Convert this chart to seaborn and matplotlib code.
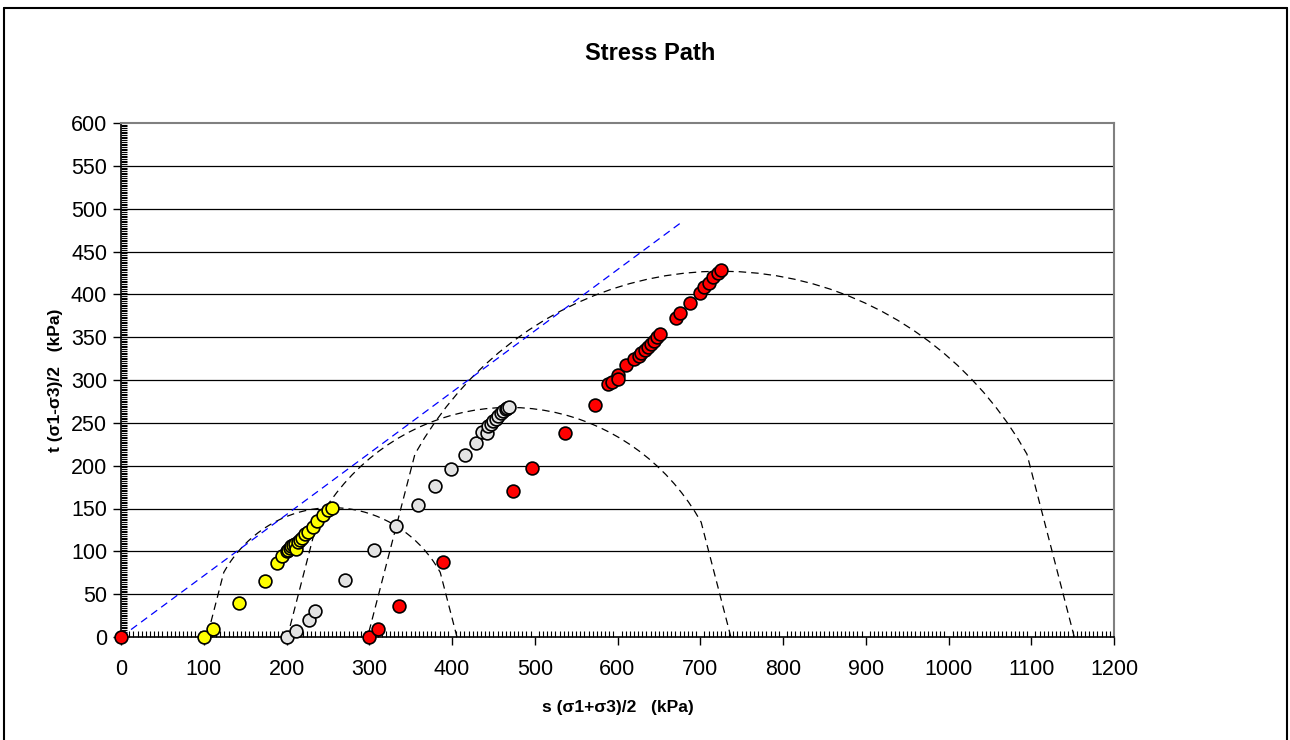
import numpy as np
import pandas as pd
import matplotlib
matplotlib.use("Agg")
import matplotlib.pyplot as plt
from matplotlib.ticker import MultipleLocator
from matplotlib.lines import Line2D
import seaborn as sns

# ---- data ----
yellow_s = [100, 111, 143, 174, 188, 195, 200, 202, 204, 206, 208, 210, 212, 214, 216, 219, 222, 226, 232, 237, 244, 250, 255]
yellow_t = [0, 9, 40, 65, 86, 95, 100, 102, 104, 106, 107, 109, 103, 111, 113, 116, 120, 123, 128, 135, 142, 148, 151]

white_s = [200, 211, 227, 235, 271, 306, 332, 359, 380, 399, 416, 429, 436, 442, 444, 447, 450, 453, 456, 459, 462, 465, 467, 469]
white_t = [0, 7, 20, 30, 66, 101, 129, 154, 176, 196, 212, 227, 239, 238, 246, 249, 252, 255, 258, 261, 264, 266, 267, 268]

red_s = [0, 300, 311, 336, 389, 474, 497, 537, 573, 589, 593, 600, 601, 610, 620, 626, 629, 633, 637, 640, 644, 648, 651, 671, 675, 688, 700, 705, 710, 716, 722, 725]
red_t = [0, 0, 9, 36, 88, 171, 197, 238, 271, 295, 298, 306, 301, 317, 324, 328, 331, 335, 339, 342, 346, 350, 354, 372, 378, 390, 402, 408, 413, 420, 425, 428]

# Mohr circles: centre s and radius t (final points)
circle_centres = [255, 469, 725]
circle_radii = [151, 268, 427]
circle_angles_deg = [0] + list(range(30, 151, 3)) + [180]

# failure envelope
envelope_s = [0, 680]
envelope_t = [0, 486]

x_ticks = list(range(0, 1201, 100))
y_ticks = list(range(0, 601, 50))

# ---- figure ----
sns.set_style("white")
plt.rcParams['font.family'] = ['Liberation Sans', 'DejaVu Sans']
plt.rcParams['text.color'] = 'black'
plt.rcParams['axes.labelcolor'] = 'black'

W, H = 1290, 740
fig = plt.figure(figsize=(W / 100, H / 100), dpi=100)
ax = fig.add_axes([121 / W, 1 - 637 / H, (1114 - 121) / W, (637 - 123) / H])

# gridlines
for yv in y_ticks[1:-1]:
    ax.axhline(yv, color='black', lw=0.9, zorder=0)

# circles
ang = np.deg2rad(circle_angles_deg)
for c, r in zip(circle_centres, circle_radii):
    df = pd.DataFrame({'s': c + r * np.cos(ang), 't': r * np.sin(ang)})
    sns.lineplot(data=df, x='s', y='t', sort=False, estimator=None, ax=ax,
                 color='black', lw=0.9, linestyle=(0, (6, 4)), zorder=2)

# envelope
env = pd.DataFrame({'s': envelope_s, 't': envelope_t})
sns.lineplot(data=env, x='s', y='t', sort=False, estimator=None, ax=ax,
             color='#0000FF', lw=0.9, linestyle=(0, (6, 4)), zorder=2)

# stress paths
for xs, ts, col in [(yellow_s, yellow_t, '#FFFF00'),
                    (white_s, white_t, '#E3E3E3'),
                    (red_s, red_t, '#FF0000')]:
    df = pd.DataFrame({'s': xs, 't': ts})
    sns.scatterplot(data=df, x='s', y='t', ax=ax, color=col, edgecolor='black',
                    linewidth=1.2, s=85, zorder=3, clip_on=False)

ax.set_xlim(0, 1200)
ax.set_ylim(0, 600)
ax.set_xticks(x_ticks)
ax.set_yticks(y_ticks)
ax.set_xticklabels([str(v) for v in x_ticks])
ax.set_yticklabels([str(v) for v in y_ticks])
ax.xaxis.set_minor_locator(MultipleLocator(5))
ax.yaxis.set_minor_locator(MultipleLocator(2))
ax.tick_params(axis='both', which='major', direction='out', length=6, width=1,
               color='black', labelsize=15.5, labelcolor='black')
ax.tick_params(axis='x', which='major', pad=10)
ax.tick_params(axis='y', which='major', pad=4)
ax.tick_params(axis='both', which='minor', direction='in', length=4, width=0.8, color='black')
ax.tick_params(bottom=True, left=True, which='both')

for side in ['left', 'bottom']:
    ax.spines[side].set_color('black')
    ax.spines[side].set_linewidth(1.2)
for side in ['top', 'right']:
    ax.spines[side].set_color('#808080')
    ax.spines[side].set_linewidth(1.5)

ax.set_xlabel('s (σ1+σ3)/2   (kPa)', fontsize=12.5, fontweight='bold', labelpad=14,
              color='black')
ax.set_ylabel('t (σ1-σ3)/2   (kPa)', fontsize=12.5, fontweight='bold', labelpad=6,
              color='black')

fig.text(650 / W, 1 - 53 / H, 'Stress Path', ha='center', va='center',
         fontsize=17, fontweight='bold', color='black')

# outer chart border
for (x0, y0, x1, y1) in [(4, 8, 4, 745), (4, 8, 1287, 8), (1287, 8, 1287, 745)]:
    fig.add_artist(Line2D([x0 / W, x1 / W], [1 - y0 / H, 1 - y1 / H],
                          color='black', lw=1.5, transform=fig.transFigure))

fig.savefig('out.png', dpi=100)
